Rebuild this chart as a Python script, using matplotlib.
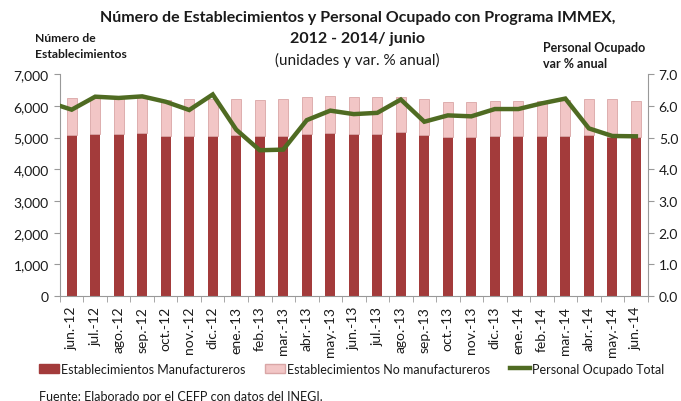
import matplotlib
matplotlib.use("Agg")
import matplotlib.pyplot as plt
import numpy as np
from matplotlib.patches import Patch
from matplotlib.lines import Line2D

plt.rcParams['font.family'] = ['Lato', 'DejaVu Sans']

meses = ["jun.-12", "jul.-12", "ago.-12", "sep.-12", "oct.-12", "nov.-12", "dic.-12",
         "ene.-13", "feb.-13", "mar.-13", "abr.-13", "may.-13", "jun.-13", "jul.-13",
         "ago.-13", "sep.-13", "oct.-13", "nov.-13", "dic.-13", "ene.-14", "feb.-14",
         "mar.-14", "abr.-14", "may.-14", "jun.-14"]

manufactureros = [5090, 5100, 5100, 5140, 5040, 5060, 5040, 5085, 5040, 5040, 5100, 5150, 5110,
                  5110, 5170, 5080, 5020, 5020, 5040, 5040, 5040, 5040, 5080, 5020, 5020]
totales = [6260, 6260, 6240, 6240, 6200, 6220, 6230, 6220, 6180, 6220, 6290, 6320, 6270,
           6270, 6280, 6210, 6130, 6130, 6160, 6160, 6160, 6180, 6210, 6210, 6140]
no_manufactureros = [t - m for t, m in zip(totales, manufactureros)]

# Personal ocupado total, var % anual (may.-12 previous month first, clipped at axis edge)
personal_may12 = 6.12
personal = [5.88, 6.29, 6.25, 6.30, 6.13, 5.87, 6.36, 5.25, 4.60, 4.62, 5.55, 5.85, 5.74,
            5.78, 6.20, 5.50, 5.70, 5.67, 5.90, 5.90, 6.08, 6.23, 5.29, 5.05, 5.04]

c_manu = "#A33B3B"
c_nomanu = "#F2C6C6"
c_line = "#4F6B22"
c_text = "#1a1a1a"

fig = plt.figure(figsize=(6.81, 4.02), dpi=100)
ax = fig.add_axes([0.088, 0.261, 0.863, 0.552])
x = np.arange(len(meses))
w = 0.43
ax.bar(x, manufactureros, width=w, color=c_manu, zorder=2)
ax.bar(x, no_manufactureros, width=w, bottom=manufactureros, color=c_nomanu,
       edgecolor="#D9A6A6", linewidth=0.6, zorder=2)
ax.set_xlim(-0.5, len(meses) - 0.5)
ax.set_ylim(0, 7000)
ax.set_yticks(np.arange(0, 7001, 1000))
ax.set_yticklabels([f"{v:,}" for v in range(0, 7001, 1000)], fontsize=10, color=c_text)
ax.set_xticks(x)
ax.set_xticklabels(meses, rotation=90, fontsize=10, color=c_text)
ax.tick_params(axis='x', length=0, pad=7)
ax.set_xticks(np.arange(-0.5, len(meses), 1), minor=True)
ax.tick_params(axis='x', which='minor', length=4, color="#999999")
ax.tick_params(axis='y', length=4, color="#999999", pad=4)
for s in ["top", "right"]:
    ax.spines[s].set_visible(False)
for s in ["left", "bottom"]:
    ax.spines[s].set_color("#999999")

ax2 = ax.twinx()
xl = np.concatenate([[-1], x])
yl = [personal_may12] + personal
ax2.plot(xl, yl, color=c_line, linewidth=3.2, zorder=3, solid_joinstyle='miter')
ax2.set_xlim(-0.5, len(meses) - 0.5)
ax2.set_ylim(0, 7.0)
ax2.set_yticks(np.arange(0, 7.01, 1.0))
ax2.set_yticklabels([f"{v:.1f}" for v in np.arange(0, 7.01, 1.0)], fontsize=10, color=c_text)
ax2.tick_params(axis='y', length=4, color="#999999", pad=4)
for s in ["top", "left", "bottom"]:
    ax2.spines[s].set_visible(False)
ax2.spines["right"].set_color("#999999")

fig.text(0.525, 0.955, "Número de Establecimientos y Personal Ocupado con Programa IMMEX,",
         ha="center", va="center", fontsize=11.5, fontweight="bold", color=c_text)
fig.text(0.525, 0.902, "2012 - 2014/ junio", ha="center", va="center", fontsize=11.5,
         fontweight="bold", color=c_text)
fig.text(0.525, 0.850, "(unidades y var. % anual)", ha="center", va="center", fontsize=11,
         color=c_text)
fig.text(0.052, 0.905, "Número de", ha="left", va="center", fontsize=8.7, fontweight="bold",
         color=c_text)
fig.text(0.052, 0.864, "Establecimientos", ha="left", va="center", fontsize=8.7,
         fontweight="bold", color=c_text)
fig.text(0.797, 0.880, "Personal Ocupado", ha="left", va="center", fontsize=9,
         fontweight="bold", color=c_text)
fig.text(0.797, 0.842, "var % anual", ha="left", va="center", fontsize=9, fontweight="bold",
         color=c_text)

handles = [Patch(facecolor=c_manu, edgecolor=c_manu),
           Patch(facecolor=c_nomanu, edgecolor="#D9A6A6"),
           Line2D([0], [0], color=c_line, linewidth=3.2)]
labels = ["Establecimientos Manufactureros", "Establecimientos No manufactureros",
          "Personal Ocupado Total"]
fig.legend(handles, labels, loc="center", bbox_to_anchor=(0.516, 0.08), ncol=3, frameon=False,
           fontsize=9, handlelength=1.6, handleheight=0.7, handletextpad=0.15, columnspacing=1.6,
           labelcolor=c_text)
fig.text(0.057, 0.013, "Fuente: Elaborado por el CEFP con datos del INEGI.", ha="left",
         va="center", fontsize=9, color=c_text)

fig.savefig("out.png", dpi=100)
